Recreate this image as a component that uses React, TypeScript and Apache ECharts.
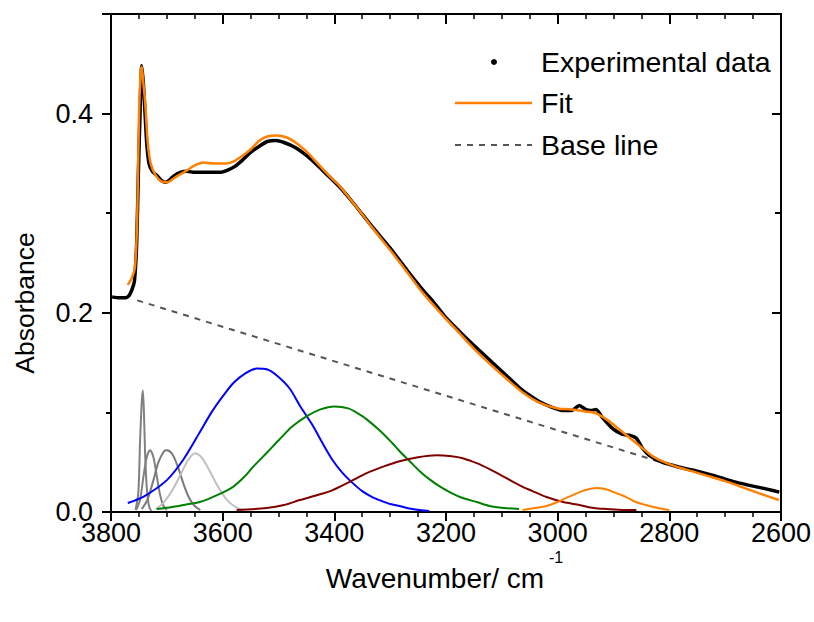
import React, { useEffect, useRef } from "react";
import * as echarts from "echarts";

// ---------- data ----------
const expX = [3798, 3785, 3775, 3768, 3762, 3758, 3754, 3751, 3748, 3745, 3742, 3739, 3736, 3732, 3726, 3718, 3710, 3702, 3694, 3686, 3676, 3664, 3650, 3636, 3620, 3605, 3592, 3578, 3565, 3550, 3535, 3520, 3505, 3490, 3470, 3450, 3430, 3410, 3390, 3370, 3350, 3330, 3300, 3270, 3240, 3224, 3200, 3170, 3140, 3117, 3090, 3069, 3050, 3033, 3010, 2992, 2975, 2961, 2950, 2940, 2931, 2920, 2902, 2884, 2870, 2859, 2848, 2836, 2813, 2782, 2750, 2723, 2700, 2681, 2650, 2625, 2603];
const expY = [0.216, 0.215, 0.215, 0.217, 0.224, 0.232, 0.27, 0.34, 0.40, 0.448, 0.43, 0.40, 0.37, 0.35, 0.342, 0.338, 0.333, 0.331, 0.334, 0.338, 0.341, 0.342, 0.341, 0.341, 0.341, 0.341, 0.343, 0.347, 0.353, 0.361, 0.367, 0.372, 0.373, 0.371, 0.366, 0.358, 0.348, 0.337, 0.326, 0.313, 0.299, 0.285, 0.265, 0.243, 0.222, 0.212, 0.195, 0.178, 0.162, 0.150, 0.136, 0.125, 0.117, 0.111, 0.105, 0.102, 0.102, 0.107, 0.103, 0.102, 0.103, 0.095, 0.084, 0.078, 0.077, 0.074, 0.064, 0.057, 0.050, 0.045, 0.041, 0.037, 0.033, 0.030, 0.026, 0.023, 0.020];

const fitX = [3770, 3762, 3757, 3753, 3750, 3747, 3745, 3742, 3739, 3734, 3729, 3720, 3710, 3700, 3685, 3664, 3650, 3635, 3615, 3593, 3580, 3569, 3550, 3534, 3520, 3503, 3485, 3467, 3450, 3430, 3410, 3390, 3370, 3350, 3330, 3300, 3270, 3240, 3210, 3180, 3150, 3120, 3090, 3060, 3030, 3000, 2975, 2950, 2931, 2910, 2890, 2870, 2850, 2830, 2813, 2790, 2760, 2730, 2700, 2670, 2640, 2604];
const fitY = [0.228, 0.236, 0.246, 0.296, 0.396, 0.44, 0.447, 0.43, 0.413, 0.37, 0.35, 0.338, 0.332, 0.331, 0.336, 0.343, 0.348, 0.351, 0.350, 0.350, 0.352, 0.356, 0.364, 0.373, 0.377, 0.378, 0.376, 0.370, 0.362, 0.350, 0.338, 0.327, 0.313, 0.299, 0.284, 0.263, 0.241, 0.219, 0.200, 0.182, 0.164, 0.148, 0.133, 0.119, 0.109, 0.104, 0.103, 0.101, 0.099, 0.092, 0.083, 0.074, 0.065, 0.056, 0.051, 0.046, 0.041, 0.036, 0.031, 0.025, 0.019, 0.012];

const baseX = [3753, 2815];
const baseY = [0.2125, 0.050];

const blueX = [3770, 3740, 3700, 3670, 3641, 3620, 3600, 3580, 3560, 3539, 3520, 3503, 3480, 3462, 3440, 3420, 3403, 3385, 3367, 3350, 3332, 3315, 3300, 3283, 3260, 3230];
const blueY = [0.009, 0.016, 0.032, 0.053, 0.080, 0.100, 0.116, 0.130, 0.139, 0.144, 0.143, 0.137, 0.124, 0.107, 0.088, 0.068, 0.052, 0.039, 0.029, 0.021, 0.015, 0.011, 0.008, 0.006, 0.003, 0.001];

const greenX = [3718, 3690, 3660, 3641, 3610, 3582, 3560, 3546, 3520, 3498, 3475, 3450, 3425, 3400, 3375, 3355, 3342, 3319, 3296, 3283, 3265, 3247, 3230, 3212, 3190, 3170, 3145, 3122, 3095, 3069];
const greenY = [0.003, 0.005, 0.008, 0.010, 0.017, 0.025, 0.036, 0.045, 0.060, 0.073, 0.086, 0.096, 0.103, 0.106, 0.104, 0.098, 0.093, 0.082, 0.069, 0.061, 0.051, 0.041, 0.033, 0.026, 0.019, 0.014, 0.010, 0.006, 0.004, 0.003];

const maroonX = [3575, 3521, 3490, 3462, 3430, 3403, 3370, 3342, 3310, 3283, 3250, 3217, 3190, 3170, 3145, 3122, 3095, 3069, 3045, 3020, 2990, 2961, 2935, 2913, 2880, 2859];
const maroonY = [0.002, 0.004, 0.007, 0.012, 0.017, 0.022, 0.031, 0.039, 0.046, 0.051, 0.055, 0.057, 0.056, 0.054, 0.049, 0.043, 0.035, 0.027, 0.021, 0.015, 0.010, 0.007, 0.004, 0.003, 0.002, 0.002];

const orangeX = [3063, 3040, 3020, 3000, 2985, 2965, 2950, 2931, 2915, 2895, 2877, 2860, 2842, 2820, 2800];
const orangeY = [0.002, 0.004, 0.006, 0.010, 0.014, 0.019, 0.022, 0.024, 0.023, 0.019, 0.015, 0.010, 0.007, 0.004, 0.002];

const spikeX = [3756, 3751, 3748, 3745, 3743, 3741, 3739, 3736, 3732, 3728];
const spikeY = [0.002, 0.02, 0.07, 0.11, 0.122, 0.10, 0.06, 0.025, 0.006, 0.001];

const gray2X = [3755, 3748, 3742, 3736, 3730, 3724, 3718, 3712, 3706, 3700];
const gray2Y = [0.002, 0.012, 0.035, 0.055, 0.062, 0.055, 0.036, 0.017, 0.006, 0.002];

const gray3X = [3745, 3735, 3725, 3715, 3705, 3700, 3690, 3680, 3670, 3660, 3650, 3640];
const gray3Y = [0.003, 0.012, 0.030, 0.050, 0.061, 0.062, 0.058, 0.045, 0.028, 0.014, 0.006, 0.002];

const gray4X = [3720, 3705, 3690, 3675, 3662, 3650, 3638, 3625, 3610, 3595, 3580, 3565];
const gray4Y = [0.003, 0.010, 0.022, 0.038, 0.052, 0.059, 0.055, 0.043, 0.027, 0.014, 0.006, 0.002];

const xTicks = [3800, 3600, 3400, 3200, 3000, 2800, 2600];
const yTickLabels = ["0.0", "0.2", "0.4"];

const legendNames = ["Experimental data", "Fit", "Base line"];

const zip = (xs: number[], ys: number[]) => xs.map((x, i) => [x, ys[i]]);

const FONT = "'Liberation Sans', Arial, sans-serif";

export default function App() {
  const ref = useRef<HTMLDivElement>(null);

  useEffect(() => {
    if (!ref.current) return;
    const chart = echarts.init(ref.current, undefined, { renderer: "svg" });

    const comp = (name: string, xs: number[], ys: number[], color: string, width = 2) => ({
      name,
      type: "line",
      data: zip(xs, ys),
      showSymbol: false,
      smooth: 0.3,
      lineStyle: { color, width },
      z: 2,
    });

    const xBase = {
      type: "value",
      inverse: true,
      min: 2600,
      max: 3800,
      interval: 200,
      splitLine: { show: false },
      axisLine: { show: true, onZero: false, lineStyle: { color: "#000", width: 2 } },
      minorTick: { show: true, splitNumber: 4, length: 5, lineStyle: { color: "#000", width: 1.5 } },
    };

    const yBase = {
      type: "value",
      min: 0,
      max: 0.5,
      splitLine: { show: false },
    };

    const option: any = {
      animation: false,
      backgroundColor: "#fff",
      grid: { left: 111, right: 32, top: 14, bottom: 110, containLabel: false },
      xAxis: [
        {
          ...xBase,
          position: "bottom",
          axisTick: { show: true, inside: false, length: 9, lineStyle: { color: "#000", width: 2 } },
          axisLabel: {
            show: true,
            color: "#000",
            fontSize: 27,
            lineHeight: 22,
            fontFamily: FONT,
            margin: 10,
            formatter: (v: number) => (xTicks.includes(v) ? String(v) : ""),
          },
        },
        {
          ...xBase,
          position: "top",
          axisTick: { show: true, inside: true, length: 10, lineStyle: { color: "#000", width: 2 } },
          axisLabel: { show: false },
        },
      ],
      yAxis: [
        {
          ...yBase,
          position: "left",
          interval: 0.2,
          axisLine: { show: true, onZero: false, lineStyle: { color: "#000", width: 2 } },
          axisTick: { show: true, inside: false, length: 9, lineStyle: { color: "#000", width: 2 } },
          axisLabel: {
            show: true,
            color: "#000",
            fontSize: 27,
            lineHeight: 20,
            fontFamily: FONT,
            margin: 18,
            formatter: (v: number) => {
              const s = v.toFixed(1);
              return yTickLabels.includes(s) ? s : "";
            },
          },
        },
        {
          ...yBase,
          position: "left",
          interval: 0.1,
          axisLine: { show: false },
          axisTick: { show: true, inside: false, length: 5, lineStyle: { color: "#000", width: 2 } },
          axisLabel: { show: false },
        },
        {
          ...yBase,
          position: "right",
          interval: 0.2,
          axisLine: { show: true, onZero: false, lineStyle: { color: "#000", width: 2 } },
          axisTick: { show: true, inside: true, length: 9, lineStyle: { color: "#000", width: 2 } },
          axisLabel: { show: false },
        },
        {
          ...yBase,
          position: "right",
          interval: 0.1,
          axisLine: { show: false },
          axisTick: { show: true, inside: true, length: 6, lineStyle: { color: "#000", width: 2 } },
          axisLabel: { show: false },
        },
      ],
      series: [
        comp("spike", spikeX, spikeY, "#808080", 2),
        comp("gray2", gray2X, gray2Y, "#808080", 2),
        comp("gray3", gray3X, gray3Y, "#7a7a7a", 2),
        comp("gray4", gray4X, gray4Y, "#c0c0c0", 2),
        comp("blue", blueX, blueY, "#0000ff", 2),
        comp("green", greenX, greenY, "#008000", 2),
        comp("maroon", maroonX, maroonY, "#800000", 2),
        comp("orange", orangeX, orangeY, "#ff8000", 2),
        {
          name: legendNames[2],
          type: "line",
          data: zip(baseX, baseY),
          showSymbol: false,
          lineStyle: { color: "#555", width: 2, type: [6, 6] },
          z: 3,
        },
        {
          name: legendNames[0],
          type: "line",
          data: zip(expX, expY),
          showSymbol: false,
          smooth: 0.2,
          lineStyle: { color: "#000", width: 3.5 },
          z: 4,
        },
        {
          name: legendNames[1],
          type: "line",
          data: zip(fitX, fitY),
          showSymbol: false,
          smooth: 0.3,
          lineStyle: { color: "#ff8000", width: 2.5 },
          z: 5,
        },
      ],
      graphic: [
        { type: "circle", shape: { cx: 494, cy: 62, r: 3 }, style: { fill: "#000" } },
        {
          type: "text",
          x: 541,
          y: 62,
          style: { text: legendNames[0], fontSize: 28.5, fontFamily: FONT, fill: "#000", verticalAlign: "middle" },
        },
        { type: "line", shape: { x1: 455, y1: 103, x2: 532, y2: 103 }, style: { stroke: "#ff8000", lineWidth: 2.5 } },
        {
          type: "text",
          x: 541,
          y: 103,
          style: { text: legendNames[1], fontSize: 28.5, fontFamily: FONT, fill: "#000", verticalAlign: "middle" },
        },
        {
          type: "line",
          shape: { x1: 455, y1: 145, x2: 532, y2: 145 },
          style: { stroke: "#555", lineWidth: 2, lineDash: [6, 6] },
        },
        {
          type: "text",
          x: 541,
          y: 145,
          style: { text: legendNames[2], fontSize: 28.5, fontFamily: FONT, fill: "#000", verticalAlign: "middle" },
        },
        {
          type: "text",
          x: 435,
          y: 578,
          style: { text: "Wavenumber/ cm", fontSize: 28, fontFamily: FONT, fill: "#000", align: "center", verticalAlign: "middle" },
        },
        {
          type: "text",
          x: 549,
          y: 557,
          style: { text: "-1", fontSize: 16, lineHeight: 12, fontFamily: FONT, fill: "#000", align: "left", verticalAlign: "middle" },
        },
        {
          type: "text",
          x: 25,
          y: 303,
          rotation: Math.PI / 2,
          style: { text: "Absorbance", fontSize: 26.5, fontFamily: FONT, fill: "#000", align: "center", verticalAlign: "middle" },
        },
      ],
    };

    chart.setOption(option);
    return () => chart.dispose();
  }, []);

  return (
    <div
      ref={ref}
      style={{ position: "fixed", left: 0, top: 0, width: 814, height: 622 }}
    />
  );
}
